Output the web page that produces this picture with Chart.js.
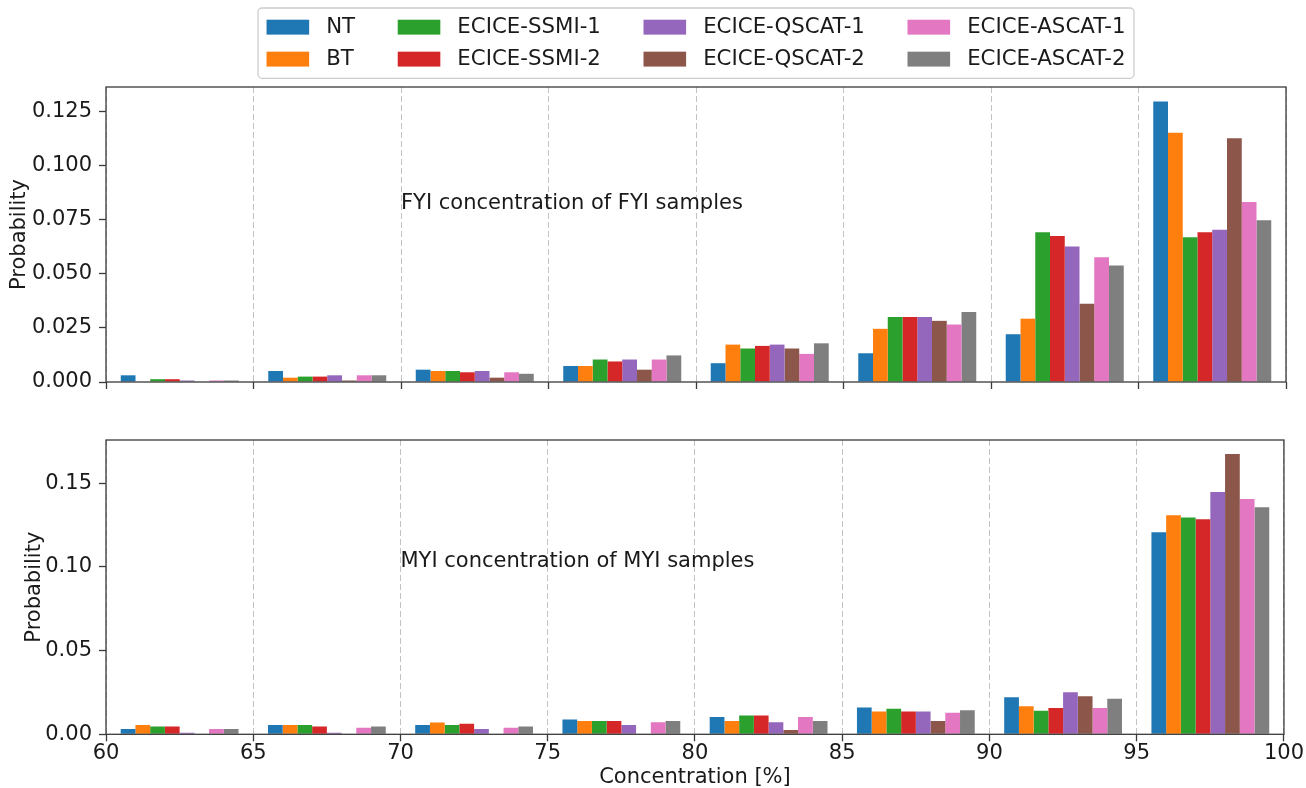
<!DOCTYPE html>
<html>
<head>
<meta charset="utf-8">
<script src="https://cdn.jsdelivr.net/npm/chart.js@4.4.0/dist/chart.umd.min.js"></script>
<style>
  html, body { margin: 0; padding: 0; background: #ffffff; }
  #wrap { position: relative; width: 1306px; height: 788px; overflow: hidden; background: #ffffff; }
  #c1 { position: absolute; left: 0; top: 0; }
  #c2 { position: absolute; left: 0; top: 410px; }
</style>
</head>
<body>
<div id="wrap">
  <canvas id="c1" width="1306" height="410"></canvas>
  <canvas id="c2" width="1306" height="378"></canvas>
</div>
<script>
// ---------------- DATA ----------------
const binEdges = [60, 65, 70, 75, 80, 85, 90, 95, 100];
const xTicks = [60, 65, 70, 75, 80, 85, 90, 95, 100];
const yTicksFYI = [0, 0.025, 0.05, 0.075, 0.1, 0.125];
const yTicksMYI = [0, 0.05, 0.10, 0.15];

const seriesNames = ['NT', 'BT', 'ECICE-SSMI-1', 'ECICE-SSMI-2',
                     'ECICE-QSCAT-1', 'ECICE-QSCAT-2', 'ECICE-ASCAT-1', 'ECICE-ASCAT-2'];
const seriesColors = ['#1f77b4', '#ff7f0e', '#2ca02c', '#d62728',
                      '#9467bd', '#8c564b', '#e377c2', '#7f7f7f'];

// FYI concentration of FYI samples (probability per 5% bin)
const fyiNT     = [0.0031, 0.0051, 0.0057, 0.0074, 0.0087, 0.0133, 0.0221, 0.1298];
const fyiBT     = [0.0000, 0.0020, 0.0051, 0.0074, 0.0173, 0.0246, 0.0293, 0.1153];
const fyiSSMI1  = [0.0013, 0.0025, 0.0051, 0.0104, 0.0155, 0.0301, 0.0693, 0.0670];
const fyiSSMI2  = [0.0013, 0.0025, 0.0045, 0.0095, 0.0167, 0.0301, 0.0675, 0.0693];
const fyiQSCAT1 = [0.0007, 0.0031, 0.0051, 0.0104, 0.0173, 0.0301, 0.0627, 0.0705];
const fyiQSCAT2 = [0.0000, 0.0007, 0.0020, 0.0057, 0.0155, 0.0283, 0.0362, 0.1128];
const fyiASCAT1 = [0.0007, 0.0031, 0.0045, 0.0104, 0.0130, 0.0266, 0.0577, 0.0833];
const fyiASCAT2 = [0.0007, 0.0031, 0.0038, 0.0123, 0.0179, 0.0324, 0.0539, 0.0749];

// MYI concentration of MYI samples
const myiNT     = [0.0031, 0.0055, 0.0055, 0.0088, 0.0104, 0.0160, 0.0221, 0.1207];
const myiBT     = [0.0055, 0.0055, 0.0071, 0.0080, 0.0080, 0.0136, 0.0167, 0.1309];
const myiSSMI1  = [0.0047, 0.0055, 0.0055, 0.0080, 0.0112, 0.0152, 0.0141, 0.1295];
const myiSSMI2  = [0.0047, 0.0047, 0.0063, 0.0080, 0.0112, 0.0136, 0.0157, 0.1285];
const myiQSCAT1 = [0.0009, 0.0009, 0.0031, 0.0056, 0.0072, 0.0136, 0.0251, 0.1447];
const myiQSCAT2 = [0.0000, 0.0000, 0.0000, 0.0000, 0.0026, 0.0080, 0.0227, 0.1674];
const myiASCAT1 = [0.0031, 0.0039, 0.0039, 0.0072, 0.0104, 0.0128, 0.0157, 0.1405];
const myiASCAT2 = [0.0031, 0.0047, 0.0047, 0.0080, 0.0080, 0.0144, 0.0213, 0.1357];

const fyiSeries = [fyiNT, fyiBT, fyiSSMI1, fyiSSMI2, fyiQSCAT1, fyiQSCAT2, fyiASCAT1, fyiASCAT2];
const myiSeries = [myiNT, myiBT, myiSSMI1, myiSSMI2, myiQSCAT1, myiQSCAT2, myiASCAT1, myiASCAT2];

const fyiYMax = 0.1365;
const myiYMax = 0.1758;

// ---------------- STYLE ----------------
const FONT = "'DejaVu Sans', 'Liberation Sans', sans-serif";
const FS = 21;
const LEGEND_FS = 21.3;
const TEXT = '#1a1a1a';
const SPINE = '#3a3a3a';
Chart.defaults.font.family = FONT;
Chart.defaults.font.size = FS;
Chart.defaults.color = TEXT;

const binCenters = binEdges.slice(0, -1).map((e, i) => (e + binEdges[i + 1]) / 2);

function makeDatasets(series) {
  return seriesNames.map((name, i) => ({
    label: name,
    data: series[i].map((v, j) => ({ x: binCenters[j], y: v })),
    backgroundColor: seriesColors[i],
    borderWidth: 0,
    categoryPercentage: 0.8,
    barPercentage: 1.0
  }));
}

const framePlugin = {
  id: 'frame',
  afterDatasetsDraw(chart) {
    const { ctx, chartArea: a } = chart;
    ctx.save();
    ctx.strokeStyle = SPINE;
    ctx.lineWidth = 1.3;
    ctx.strokeRect(a.left, a.top, a.right - a.left, a.bottom - a.top);
    ctx.restore();
  }
};

const notePlugin = {
  id: 'note',
  afterDatasetsDraw(chart, args, opts) {
    const { ctx, scales } = chart;
    ctx.save();
    ctx.font = FS + 'px ' + FONT;
    ctx.fillStyle = TEXT;
    ctx.textAlign = 'left';
    ctx.textBaseline = 'alphabetic';
    ctx.fillText(opts.text, scales.x.getPixelForValue(opts.x), scales.y.getPixelForValue(opts.y));
    ctx.restore();
  }
};

const gridLegendPlugin = {
  id: 'gridLegend',
  afterDraw(chart, args, opts) {
    const ctx = chart.ctx;
    const ds = chart.data.datasets;
    const fs = LEGEND_FS;
    const nCol = opts.columns;
    const nRow = Math.ceil(ds.length / nCol);
    const handleW = 2.0 * fs, handleH = 0.7 * fs, textPad = 0.8 * fs;
    const colSpace = 2.0 * fs, borderPad = 0.4 * fs, labelSpace = 0.5 * fs;
    const rowH = 1.0 * fs;
    ctx.save();
    ctx.font = fs + 'px ' + FONT;
    const colW = [];
    for (let c = 0; c < nCol; c++) {
      let w = 0;
      for (let r = 0; r < nRow; r++) {
        const i = c * nRow + r;
        if (i < ds.length) w = Math.max(w, ctx.measureText(ds[i].label).width);
      }
      colW.push(handleW + textPad + w);
    }
    const boxW = 2 * borderPad + colW.reduce((a, b) => a + b, 0) + colSpace * (nCol - 1);
    const boxH = 2 * borderPad + nRow * rowH + (nRow - 1) * labelSpace;
    const cx = (chart.chartArea.left + chart.chartArea.right) / 2;
    const left = cx - boxW / 2;
    const top = opts.top;
    ctx.beginPath();
    ctx.roundRect(left, top, boxW, boxH, 4);
    ctx.fillStyle = 'rgba(255,255,255,0.8)';
    ctx.fill();
    ctx.strokeStyle = '#cccccc';
    ctx.lineWidth = 1.3;
    ctx.stroke();
    let x = left + borderPad;
    for (let c = 0; c < nCol; c++) {
      for (let r = 0; r < nRow; r++) {
        const i = c * nRow + r;
        if (i >= ds.length) continue;
        const cy = top + borderPad + rowH / 2 + r * (rowH + labelSpace);
        ctx.fillStyle = ds[i].backgroundColor;
        ctx.fillRect(x, cy - handleH / 2, handleW, handleH);
        ctx.fillStyle = TEXT;
        ctx.textAlign = 'left';
        ctx.textBaseline = 'middle';
        ctx.fillText(ds[i].label, x + handleW + textPad, cy);
      }
      x += colW[c] + colSpace;
    }
    ctx.restore();
  }
};

function makeChart(canvasId, series, yMax, yTicks, decimals, opt) {
  return new Chart(document.getElementById(canvasId), {
    type: 'bar',
    data: { datasets: makeDatasets(series) },
    plugins: opt.plugins,
    options: {
      responsive: false,
      animation: false,
      devicePixelRatio: 1,
      layout: { padding: { left: 0, right: 20, top: opt.padTop, bottom: 0 } },
      plugins: {
        legend: { display: false },
        tooltip: { enabled: false },
        note: opt.note,
        gridLegend: { columns: 4, top: 8 }
      },
      scales: {
        x: {
          type: 'linear',
          min: 60, max: 100,
          offset: false,
          afterBuildTicks: s => { s.ticks = xTicks.map(v => ({ value: v })); },
          afterFit: s => { s.height = opt.xHeight; },
          grid: {
            display: true, drawOnChartArea: true, drawTicks: true, offset: false,
            color: '#c2c2c2', lineWidth: 1,
            tickLength: 7, tickColor: SPINE, tickWidth: 1.3, tickBorderDash: []
          },
          border: { display: false, dash: [6, 3] },
          ticks: {
            display: opt.showXLabels, padding: 2, color: TEXT, autoSkip: false, maxRotation: 0,
            font: { size: FS, lineHeight: 1.0 },
            callback: v => String(v)
          },
          title: {
            display: opt.showXLabels, text: 'Concentration [%]', color: TEXT,
            font: { size: FS, lineHeight: 1.0 }, padding: { top: 0, bottom: 0 }
          }
        },
        y: {
          min: 0, max: yMax,
          afterBuildTicks: s => { s.ticks = yTicks.map(v => ({ value: v })); },
          afterFit: s => { s.width = 106; },
          grid: { drawOnChartArea: false, drawTicks: true, tickLength: 7, tickColor: SPINE, tickWidth: 1.3 },
          border: { display: false },
          ticks: {
            padding: 7, color: TEXT, font: { size: FS },
            callback: v => Number(v).toFixed(decimals)
          },
          title: {
            display: true, text: 'Probability', color: TEXT,
            font: { size: FS, lineHeight: 1.2 }, padding: { top: opt.yTitlePad, bottom: 0 }
          }
        }
      }
    }
  });
}

makeChart('c1', fyiSeries, fyiYMax, yTicksFYI, 3, {
  padTop: 87, xHeight: 28, showXLabels: false, yTitlePad: 7,
  note: { text: 'FYI concentration of FYI samples', x: 70, y: 0.08 },
  plugins: [framePlugin, notePlugin, gridLegendPlugin]
});

makeChart('c2', myiSeries, myiYMax, yTicksMYI, 2, {
  padTop: 30, xHeight: 53.7, showXLabels: true, yTitlePad: 22,
  note: { text: 'MYI concentration of MYI samples', x: 70, y: 0.10 },
  plugins: [framePlugin, notePlugin]
});
</script>
</body>
</html>
